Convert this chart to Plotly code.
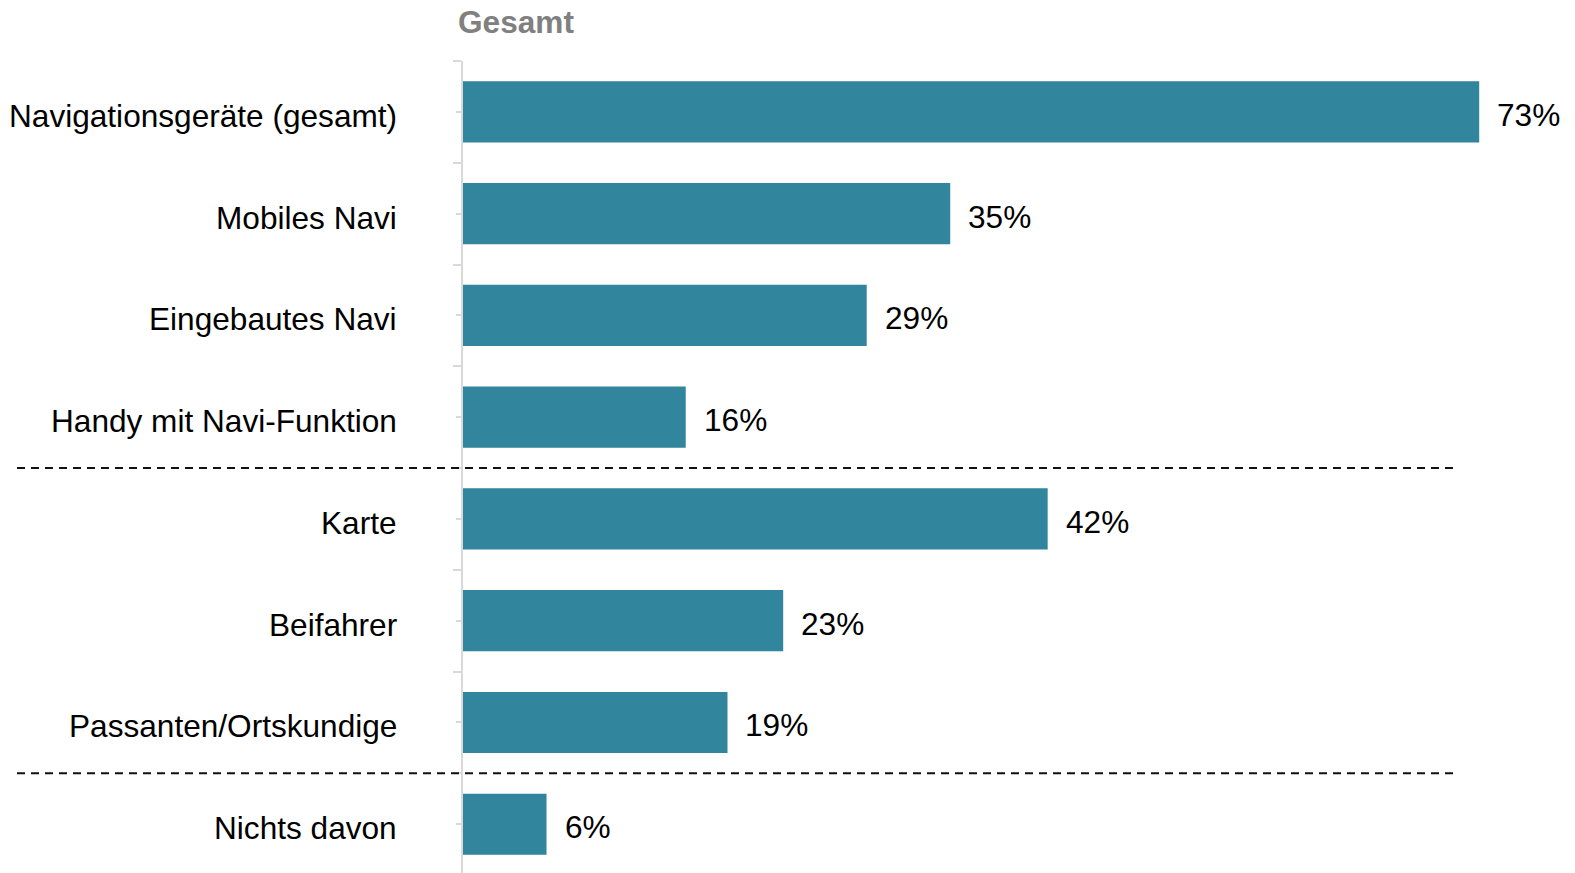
import plotly.graph_objects as go

# Survey answers, top to bottom
categories = [
    "Navigationsgeräte (gesamt)",
    "Mobiles Navi",
    "Eingebautes Navi",
    "Handy mit Navi-Funktion",
    "Karte",
    "Beifahrer",
    "Passanten/Ortskundige",
    "Nichts davon",
]
values = [73, 35, 29, 16, 42, 23, 19, 6]
value_labels = [f"{v}%" for v in values]
group_breaks = [3.5, 6.5]  # dashed separators between answer groups
column_title = "Gesamt"

W, H = 1575, 873
ML, MR, MT, MB = 463, 6, 61, 0
plot_w = W - ML - MR
plot_h = H - MT - MB

BAR = "#31859C"
FONT = "Liberation Sans, Arial, sans-serif"
FS = 31.6

pos = list(range(len(categories)))

fig = go.Figure(
    go.Bar(
        x=values,
        y=pos,
        orientation="h",
        width=0.6,
        marker=dict(color=BAR, line=dict(width=0)),
        hoverinfo="skip",
    )
)

annotations = []
# category labels, right-aligned left of the axis
for p, c in zip(pos, categories):
    annotations.append(dict(
        x=(399 - ML) / plot_w, xref="paper", y=p, yref="y",
        text=c, showarrow=False, xanchor="right", yanchor="middle",
        yshift=-4,
        font=dict(family=FONT, size=FS, color="#000000"),
    ))
# value labels right of each bar
for p, v, t in zip(pos, values, value_labels):
    annotations.append(dict(
        x=v, xref="x", y=p, yref="y", text=t, showarrow=False,
        xanchor="left", yanchor="middle", xshift=16, yshift=-3,
        font=dict(family=FONT, size=FS, color="#000000"),
    ))
# column heading
annotations.append(dict(
    x=(456 - ML) / plot_w, xref="paper", y=1 + (MT - 22) / plot_h, yref="paper",
    text=f"<b>{column_title}</b>", showarrow=False, xanchor="left", yanchor="middle",
    font=dict(family=FONT, size=FS, color="#808080"),
))

shapes = []
for b in group_breaks:
    shapes.append(dict(
        type="line", xref="paper", yref="y",
        x0=(17 - ML) / plot_w, x1=(1453 - ML) / plot_w, y0=b, y1=b,
        line=dict(color="#111111", width=2, dash="8px,6px"),
        layer="above",
    ))

fig.update_layout(
    width=W, height=H,
    margin=dict(l=ML, r=MR, t=MT, b=MB, pad=0),
    plot_bgcolor="white", paper_bgcolor="white",
    showlegend=False,
    annotations=annotations,
    shapes=shapes,
    xaxis=dict(range=[0, 79.45], visible=False, fixedrange=True),
    yaxis=dict(
        range=[7.48, -0.5],
        showline=True, linecolor="#D9D9D9", linewidth=2,
        showgrid=False, zeroline=False,
        tickmode="array", tickvals=pos, showticklabels=False,
        ticks="outside", ticklen=5, tickwidth=2, tickcolor="#D9D9D9",
        minor=dict(
            tickmode="array",
            tickvals=[p - 0.5 for p in pos],
            ticks="outside", ticklen=8, tickwidth=2, tickcolor="#D9D9D9",
            showgrid=False,
        ),
        fixedrange=True,
    ),
)

fig.write_html("out.html")
